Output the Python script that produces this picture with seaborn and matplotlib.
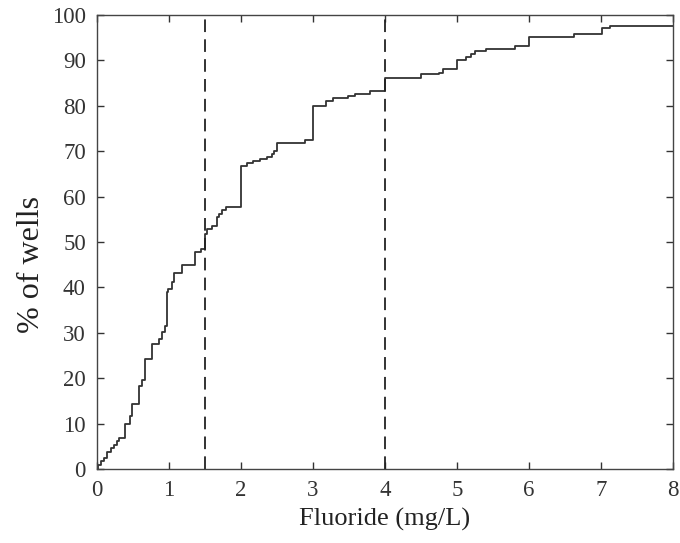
import numpy as np
import matplotlib
matplotlib.use("Agg")
import matplotlib.pyplot as plt
import seaborn as sns

# Step positions of the cumulative curve (fluoride, mg/L) and cumulative % of wells after each step
fluoride = [0.02, 0.06, 0.10, 0.14, 0.19, 0.24, 0.28, 0.31, 0.39, 0.46, 0.48,
            0.58, 0.63, 0.67, 0.77, 0.86, 0.90, 0.95, 0.97, 0.99, 1.04, 1.07,
            1.18, 1.36, 1.45, 1.50, 1.53, 1.60, 1.67, 1.70, 1.74, 1.79, 2.00,
            2.08, 2.17, 2.26, 2.36, 2.43, 2.46, 2.50, 2.89, 3.00, 3.18, 3.28,
            3.49, 3.58, 3.79, 4.00, 4.50, 4.75, 4.80, 5.00, 5.12, 5.20, 5.25,
            5.40, 5.80, 6.00, 6.62, 7.02, 7.12, 9.50]
cum_percent = [0.8, 1.8, 2.5, 3.8, 4.6, 5.3, 6.2, 6.9, 9.9, 11.7, 14.3,
               18.3, 19.6, 24.2, 27.5, 28.6, 30.1, 31.6, 38.9, 39.7, 41.1, 43.2,
               45.0, 47.7, 48.5, 51.8, 52.8, 53.6, 55.6, 56.2, 57.1, 57.7, 66.7,
               67.3, 67.8, 68.2, 68.7, 69.3, 70.0, 71.8, 72.4, 79.9, 81.1, 81.7,
               82.2, 82.7, 83.2, 86.2, 86.9, 87.3, 88.0, 90.0, 90.8, 91.5, 92.0,
               92.5, 93.2, 95.2, 95.8, 97.1, 97.6, 100.0]
guidelines = [1.5, 4.0]
x_ticks = [0, 1, 2, 3, 4, 5, 6, 7, 8]
y_ticks = [0, 10, 20, 30, 40, 50, 60, 70, 80, 90, 100]

weights = np.diff(np.concatenate([[0.0], cum_percent]))

sns.set_style("ticks")
plt.rcParams["font.family"] = ["Liberation Serif", "DejaVu Serif"]

fig = plt.figure(figsize=(6.8, 5.43), dpi=100)
ax = fig.add_axes([0.1426, 0.1363, 0.8471, 0.8361])

sns.ecdfplot(x=fluoride, weights=weights, stat="percent", ax=ax,
             color="#333333", linewidth=1.3)

for g in guidelines:
    ax.axvline(g, color="#222222", linewidth=1.3, linestyle=(0, (7, 4)))

ax.set_xlim(0, 8)
ax.set_ylim(0, 100)
ax.set_xticks(x_ticks)
ax.set_yticks(y_ticks)
ax.tick_params(direction="in", length=5, width=1, top=True, right=True,
               labelsize=16.5, pad=8, colors="#333333")
for s in ax.spines.values():
    s.set_visible(True)
    s.set_color("#444444")
    s.set_linewidth(1.0)

ax.set_xlabel("Fluoride (mg/L)", fontsize=19, color="#222222", labelpad=5)
ax.set_ylabel("% of wells", fontsize=23, color="#222222")
ax.yaxis.set_label_coords(-0.088, 0.45)

fig.savefig("out.png", dpi=100)
